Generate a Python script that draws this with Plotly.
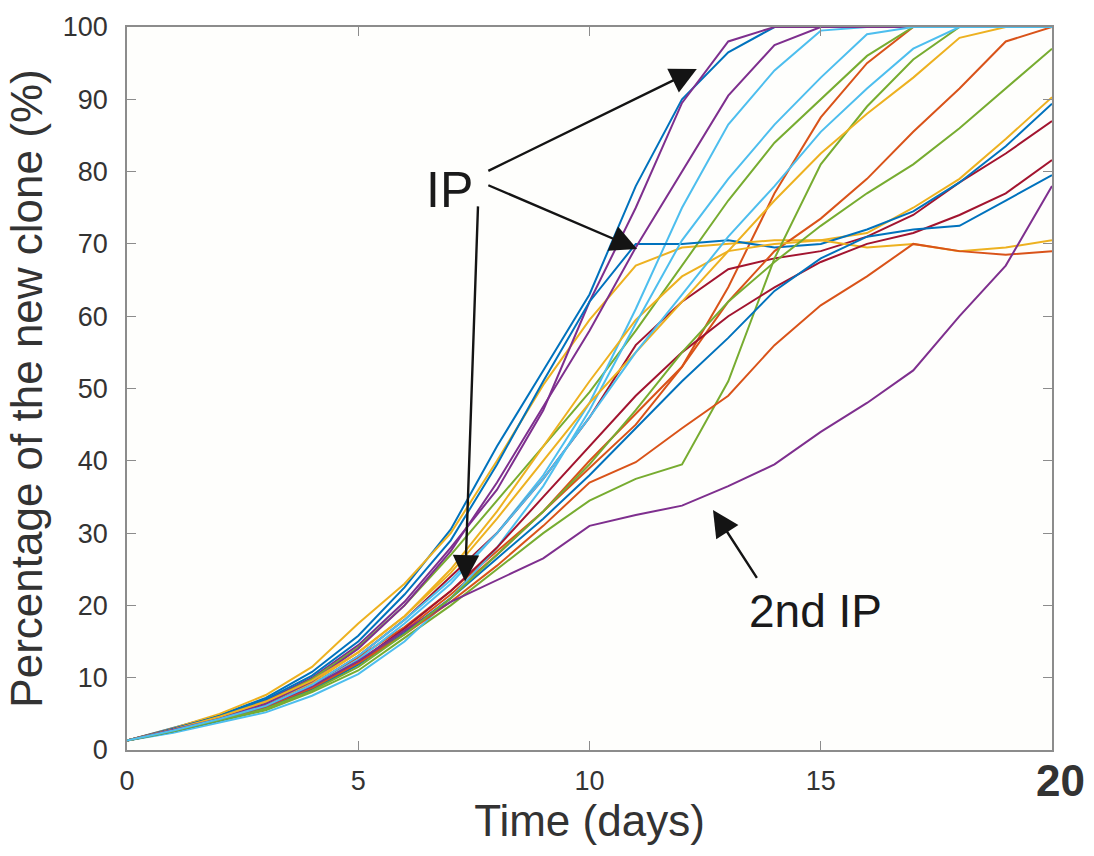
import plotly.graph_objects as go

# ---------------- data ----------------
days = list(range(21))

blue_a = [1.3, 3.0, 4.8, 7.2, 10.8, 15.8, 22.5, 30.5, 42, 52.5, 63, 78, 90, 96.5, 100, 100, 100, 100, 100, 100, 100]
orange_a = [1.3, 2.8, 4.4, 6.2, 9.0, 12.8, 17, 22, 27.5, 33, 39, 45, 53, 64, 77, 87.5, 95, 100, 100, 100, 100]
yellow_a = [1.3, 3.0, 5.0, 7.6, 11.5, 17.5, 23, 30, 40, 50.5, 59.5, 67, 69.5, 70, 70.5, 70.5, 71.5, 75, 79, 84.5, 90.3]
purple_a = [1.3, 2.9, 4.6, 6.8, 10.0, 14.5, 20.5, 28, 36, 47, 62, 75, 89.5, 98, 100, 100, 100, 100, 100, 100, 100]
green_a = [1.3, 2.9, 4.5, 6.6, 9.8, 14.2, 20, 27, 34.5, 42, 49.5, 58, 67, 76, 84, 90, 96, 100, 100, 100, 100]
cyan_a = [1.3, 2.8, 4.3, 6.0, 8.8, 12.5, 17.5, 23, 30, 38, 48, 61, 75, 86.5, 94, 99.5, 100, 100, 100, 100, 100]
darkred_a = [1.3, 2.8, 4.4, 6.2, 9.0, 13, 18, 24, 30, 37.5, 46, 56, 62, 66.5, 68, 69, 71, 74, 78.5, 82.5, 87]

blue_b = [1.3, 2.9, 4.7, 7.0, 10.3, 15, 21.5, 29, 39.5, 51, 62, 70, 70, 70.5, 69.5, 70, 72, 74.5, 78.5, 83.5, 89.4]
orange_b = [1.3, 2.6, 4.2, 5.9, 8.5, 12, 16.5, 21.5, 27, 33, 40, 46.5, 53, 62, 69, 73.5, 79, 85.5, 91.5, 98, 100]
yellow_b = [1.3, 2.8, 4.5, 6.4, 9.3, 13.5, 18.5, 25, 33, 42, 51, 59.5, 65.5, 69, 70, 70.5, 69.5, 70, 69, 69.5, 70.5]
purple_b = [1.3, 2.7, 4.4, 6.4, 9.5, 14, 20, 27.5, 37, 47.5, 58, 69.5, 80, 90.5, 97.5, 100, 100, 100, 100, 100, 100]
green_b = [1.3, 2.5, 4.0, 5.5, 8.0, 11, 15.5, 20, 25, 30, 34.5, 37.5, 39.5, 51, 68, 81, 89, 95.5, 100, 100, 100]
cyan_b = [1.3, 2.4, 3.8, 5.2, 7.5, 10.5, 15, 21, 28, 36.5, 47, 59, 70.5, 79, 86.5, 93, 99, 100, 100, 100, 100]
darkred_b = [1.3, 2.7, 4.2, 6.0, 8.6, 12.2, 16.8, 22, 28, 35, 42, 49, 55, 60, 64, 67.5, 70, 71.5, 74, 77, 81.6]

blue_c = [1.3, 2.6, 4.1, 5.8, 8.3, 11.8, 16.2, 21, 26.5, 32, 38, 44.5, 51, 57, 63.5, 68, 71, 72, 72.5, 76, 79.5]
orange_c = [1.3, 2.7, 4.3, 6.0, 8.6, 12, 16, 20.5, 25.5, 31, 37, 39.8, 44.5, 49, 56, 61.5, 65.5, 70, 69, 68.5, 69]
yellow_c = [1.3, 2.8, 4.6, 6.7, 9.6, 13.5, 18.5, 24.5, 32, 40, 48, 55, 62, 69, 76, 82.5, 88, 93, 98.5, 100, 100]
purple_c = [1.3, 2.8, 4.3, 6.1, 8.8, 12.3, 16.5, 20.5, 23.5, 26.5, 31, 32.5, 33.8, 36.5, 39.5, 44, 48, 52.5, 60, 67, 78]
green_c = [1.3, 2.6, 4.1, 5.7, 8.2, 11.5, 16, 21, 27, 33, 39.5, 47, 55, 62, 67.5, 72.5, 77, 81, 86, 91.5, 97]
cyan_c = [1.3, 2.7, 4.3, 6.1, 9.0, 13, 18, 23.5, 30, 37.5, 46, 55, 63, 71, 78, 85.5, 91.5, 97, 100, 100, 100]

x_ticks = [0, 5, 10, 15, 20]
x_ticktext = ["0", "5", "10", "15", ""]
y_ticks = list(range(0, 101, 10))

# ---------------- style ----------------
C_BLUE, C_ORANGE, C_YELLOW = "#0072BD", "#D95319", "#EDB120"
C_PURPLE, C_GREEN, C_CYAN, C_DARKRED = "#7E2F8E", "#77AC30", "#4DBEEE", "#A2142F"

runs = [
    (blue_a, C_BLUE), (orange_a, C_ORANGE), (yellow_a, C_YELLOW), (purple_a, C_PURPLE),
    (green_a, C_GREEN), (cyan_a, C_CYAN), (darkred_a, C_DARKRED),
    (blue_b, C_BLUE), (orange_b, C_ORANGE), (yellow_b, C_YELLOW), (purple_b, C_PURPLE),
    (green_b, C_GREEN), (cyan_b, C_CYAN), (darkred_b, C_DARKRED),
    (blue_c, C_BLUE), (orange_c, C_ORANGE), (yellow_c, C_YELLOW), (purple_c, C_PURPLE),
    (green_c, C_GREEN), (cyan_c, C_CYAN),
]

FONT = "Liberation Sans, Arial, Helvetica, sans-serif"
TXT = "#333333"

fig = go.Figure()
for vals, col in runs:
    fig.add_trace(go.Scatter(x=days, y=vals, mode="lines",
                             line=dict(color=col, width=2), showlegend=False,
                             hoverinfo="skip"))

axis_common = dict(showline=True, linecolor="#8c8c8c", linewidth=1.5, mirror="allticks",
                   ticks="inside", ticklen=9, tickcolor="#8c8c8c", tickwidth=1.2,
                   showgrid=False, zeroline=False,
                   tickfont=dict(family=FONT, size=27, color=TXT))

fig.update_xaxes(range=[0, 20], tickvals=x_ticks, ticktext=x_ticktext,
                 title=dict(text="Time (days)", font=dict(family=FONT, size=44, color=TXT), standoff=6),
                 ticklabelstandoff=6, **axis_common)
fig.update_yaxes(range=[0, 100], tickvals=y_ticks,
                 title=dict(text="Percentage of the new clone (%)",
                            font=dict(family=FONT, size=44, color=TXT), standoff=6),
                 ticklabelstandoff=12, **axis_common)

arrow_style = dict(showarrow=True, arrowhead=2, arrowsize=2.2, arrowwidth=2.4,
                   arrowcolor="#141414", text="", xref="x", yref="y", axref="x", ayref="y",
                   standoff=0, startstandoff=0)

annotations = [
    dict(x=12.32, y=94.2, ax=7.78, ay=80.0, **arrow_style),
    dict(x=11.03, y=69.3, ax=7.78, ay=78.2, **arrow_style),
    dict(x=7.31, y=23.3, ax=7.59, ay=75.4, **arrow_style),
    dict(x=12.67, y=33.2, ax=13.64, ay=23.6, **arrow_style),
    dict(x=6.98, y=77.5, xref="x", yref="y", text="IP", showarrow=False,
         font=dict(family=FONT, size=50, color="#1a1a1a")),
    dict(x=14.88, y=19.2, xref="x", yref="y", text="2nd IP", showarrow=False,
         font=dict(family=FONT, size=46, color="#1a1a1a")),
    dict(x=20, y=0, xref="x", yref="paper", text="<b>20</b>", showarrow=False,
         yanchor="top", xanchor="center", xshift=8, yshift=-4,
         font=dict(family=FONT, size=44, color=TXT)),
]

fig.update_layout(width=1094, height=856,
                  margin=dict(l=127, r=42, t=21, b=106),
                  paper_bgcolor="#ffffff", plot_bgcolor="#fefefc",
                  annotations=annotations)

fig.write_html("out.html")
